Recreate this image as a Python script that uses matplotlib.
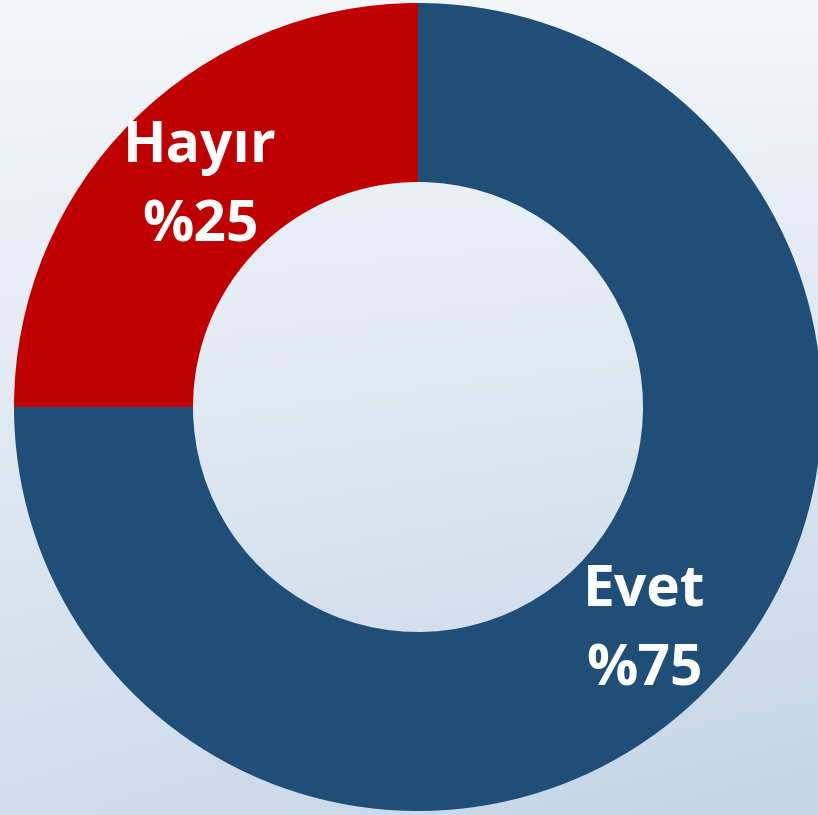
import numpy as np
import matplotlib.pyplot as plt

# veriler
labels = ['Hayır', 'Evet']
values = [25, 75]
colors = ['#C00000', '#1F4E79']

W, H = 818, 815
fig = plt.figure(figsize=(W / 100, H / 100), dpi=100)
ax = fig.add_axes([0, 0, 1, 1])

# arka plan (açık mavi gradyan)
yy, xx = np.mgrid[0:1:200j, 0:1:200j]
grad = 0.75 * yy + 0.25 * xx * yy
top = np.array([0.955, 0.965, 0.98])
bot = np.array([0.77, 0.835, 0.905])
img = top[None, None, :] * (1 - grad[..., None]) + bot[None, None, :] * grad[..., None]
ax.imshow(img, extent=(0, W, 0, H), origin='upper', zorder=0, aspect='auto')

# halka grafik
cx, cy, r = 418, H - 407, 404
ax.pie(values, colors=colors, startangle=90, counterclock=True,
       center=(cx, cy), radius=r,
       wedgeprops=dict(width=r - 225, linewidth=0))

# etiketler
lbl_pos = {'Hayır': (200, H - 187), 'Evet': (644, H - 630)}
for lab, val in zip(labels, values):
    x, y = lbl_pos[lab]
    ax.text(x, y, f'{lab}\n%{val}', ha='center', va='center', color='white',
            fontsize=41, fontweight='bold', family='Open Sans', linespacing=1.5)

ax.set_xlim(0, W)
ax.set_ylim(0, H)
ax.set_aspect('auto')
ax.axis('off')

plt.savefig('out.png', dpi=100)
